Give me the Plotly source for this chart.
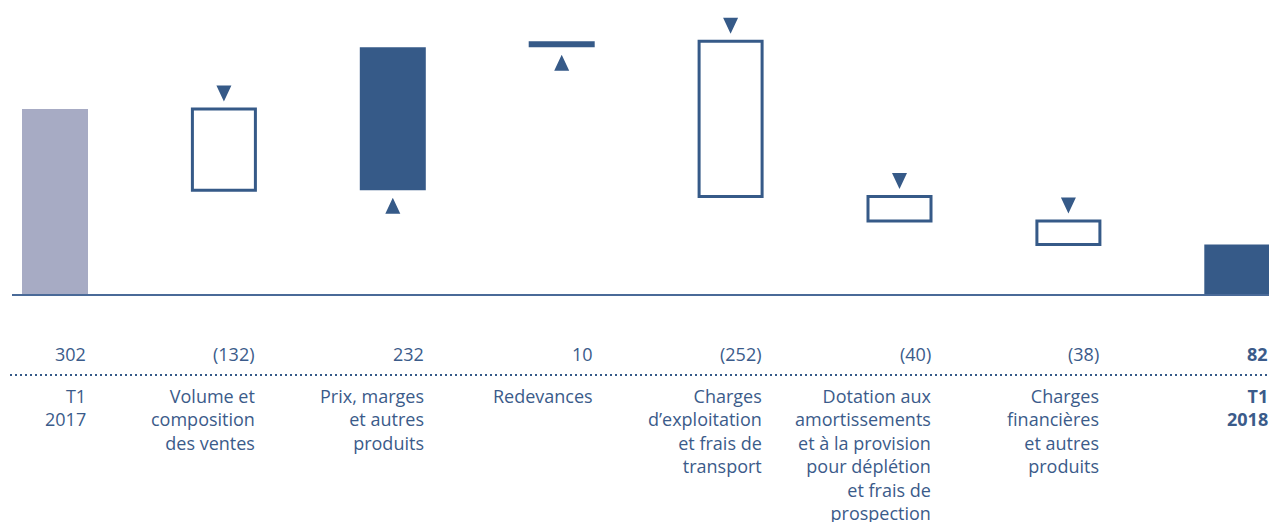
import plotly.graph_objects as go

# ---------------- data ----------------
categories = [
    "T1<br>2017",
    "Volume et<br>composition<br>des ventes",
    "Prix, marges<br>et autres<br>produits",
    "Redevances",
    "Charges<br>d’exploitation<br>et frais de<br>transport",
    "Dotation aux<br>amortissements<br>et à la provision<br>pour déplétion<br>et frais de<br>prospection",
    "Charges<br>financières<br>et autres<br>produits",
    "T1<br>2018",
]
values = [302, -132, 232, 10, -252, -40, -38, 82]
value_labels = ["302", "(132)", "232", "10", "(252)", "(40)", "(38)", "82"]
kinds = ["total", "delta", "delta", "delta", "delta", "delta", "delta", "total"]
bold = [False, False, False, False, False, False, False, True]

# ---------------- styles ----------------
BLUE = "#365a88"
LAVENDER = "#a7abc4"
TEXT = "#3b5b8a"
FONT = "Open Sans"
FS = 18

OFF = 8                      # page body margin
W, H = 1277 - OFF, 522 - OFF  # figure size
X0_PX, STEP_PX = 55 - OFF, 168.9         # figure pixel of first category centre, spacing
BASE_PX, PX_PER_UNIT = 295 - OFF, 0.616  # figure pixel of zero line, pixel per unit
BAR_W = 66 / STEP_PX

def px_x(p):
    return (p - X0_PX) / STEP_PX

def units(px):
    return px / PX_PER_UNIT

def paper_y(page_px):
    return 1 - (page_px - OFF) / H

x_range = [px_x(0), px_x(W)]
y_range = [(BASE_PX - H) / PX_PER_UNIT, BASE_PX / PX_PER_UNIT]

# compute bar bases / heights
xs = list(range(len(values)))
bases, heights = [], []
running = 0
for v, k in zip(values, kinds):
    if k == "total":
        bases.append(0)
        heights.append(v)
        running = v
    else:
        bases.append(running + min(0, v))
        heights.append(abs(v))
        running += v

fig = go.Figure()

# totals
tot_idx = [i for i, k in enumerate(kinds) if k == "total"]
fig.add_trace(go.Bar(
    x=[xs[i] for i in tot_idx], y=[heights[i] for i in tot_idx],
    base=[bases[i] for i in tot_idx], width=BAR_W,
    marker=dict(color=[LAVENDER if i == 0 else BLUE for i in tot_idx], line=dict(width=0)),
    hoverinfo="skip",
))
# increases
inc_idx = [i for i, k in enumerate(kinds) if k == "delta" and values[i] > 0]
fig.add_trace(go.Bar(
    x=[xs[i] for i in inc_idx], y=[heights[i] for i in inc_idx],
    base=[bases[i] for i in inc_idx], width=BAR_W,
    marker=dict(color=BLUE, line=dict(width=0)),
    hoverinfo="skip",
))
# decreases
dec_idx = [i for i, k in enumerate(kinds) if k == "delta" and values[i] < 0]
fig.add_trace(go.Bar(
    x=[xs[i] for i in dec_idx], y=[heights[i] for i in dec_idx],
    base=[bases[i] for i in dec_idx], width=(66 - 3) / STEP_PX,
    marker=dict(color="white", line=dict(width=3, color=BLUE)),
    hoverinfo="skip",
))

# triangles
GAP = units(7.5)
TH = units(16)
HW = 7.5 / STEP_PX
tx, ty = [], []
for i in dec_idx:
    top = bases[i] + heights[i]
    tip = top + GAP
    tx += [xs[i] - HW, xs[i] + HW, xs[i], xs[i] - HW, None]
    ty += [tip + TH, tip + TH, tip, tip + TH, None]
for i in inc_idx:
    bot = bases[i]
    tip = bot - GAP
    tx += [xs[i] - HW, xs[i] + HW, xs[i], xs[i] - HW, None]
    ty += [tip - TH, tip - TH, tip, tip - TH, None]
fig.add_trace(go.Scatter(
    x=tx, y=ty, mode="lines", fill="toself", fillcolor=BLUE,
    line=dict(width=0, color=BLUE), hoverinfo="skip",
))

# zero line
fig.add_shape(type="line", xref="x", yref="y", x0=px_x(12 - OFF), x1=x_range[1], y0=0, y1=0,
              line=dict(color="#4a6a98", width=2))
# dotted separator
fig.add_shape(type="line", xref="paper", yref="paper", x0=(10 - OFF) / W, x1=1,
              y0=paper_y(375), y1=paper_y(375),
              line=dict(color=BLUE, width=2, dash="2px,3px"))

# text rows
for i, (lab, vl, b) in enumerate(zip(categories, value_labels, bold)):
    xr = xs[i] + BAR_W / 2
    fig.add_annotation(x=xr, xref="x", y=paper_y(353.5), yref="paper", xanchor="right", yanchor="middle",
                       text=f"<b>{vl}</b>" if b else vl, showarrow=False,
                       font=dict(family=FONT, size=FS, color=TEXT))
    fig.add_annotation(x=xr, xref="x", y=paper_y(382), yref="paper", xanchor="right", yanchor="top",
                       text=f"<b>{lab}</b>" if b else lab, showarrow=False, align="right",
                       font=dict(family=FONT, size=FS, color=TEXT))

fig.update_layout(
    width=W, height=H, margin=dict(l=0, r=0, t=0, b=0),
    paper_bgcolor="white", plot_bgcolor="white", showlegend=False,
    barmode="overlay",
    xaxis=dict(range=x_range, visible=False, fixedrange=True),
    yaxis=dict(range=y_range, visible=False, fixedrange=True),
)

fig.write_html("out.html")
